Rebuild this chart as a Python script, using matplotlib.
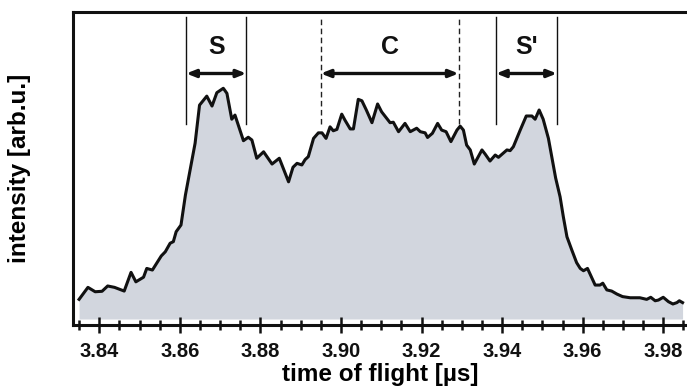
import numpy as np
import matplotlib.pyplot as plt
from matplotlib.ticker import MultipleLocator

# ── data ──────────────────────────────────────────────────────────────────────
tof = [
    3.8350, 3.8372, 3.8390, 3.8407, 3.8421, 3.8438, 3.8462, 3.8479, 3.8491, 3.8510,
    3.8518, 3.8532, 3.8554, 3.8564, 3.8576, 3.8584, 3.8591, 3.8603, 3.8614, 3.8638,
    3.8649, 3.8667, 3.8680, 3.8692, 3.8708, 3.8717, 3.8729, 3.8737, 3.8758, 3.8770,
    3.8779, 3.8791, 3.8808, 3.8829, 3.8847, 3.8870, 3.8881, 3.8891, 3.8903, 3.8911,
    3.8919, 3.8932, 3.8944, 3.8953, 3.8963, 3.8973, 3.8981, 3.8990, 3.9002, 3.9010,
    3.9023, 3.9031, 3.9043, 3.9052, 3.9063, 3.9077, 3.9091, 3.9101, 3.9122, 3.9130,
    3.9143, 3.9159, 3.9172, 3.9188, 3.9197, 3.9209, 3.9215, 3.9227, 3.9240, 3.9250,
    3.9261, 3.9273, 3.9288, 3.9296, 3.9304, 3.9312, 3.9321, 3.9331, 3.9350, 3.9358,
    3.9370, 3.9383, 3.9391, 3.9412, 3.9420, 3.9428, 3.9445, 3.9460, 3.9474, 3.9482,
    3.9492, 3.9502, 3.9515, 3.9533, 3.9544, 3.9552, 3.9561, 3.9573, 3.9585, 3.9594,
    3.9602, 3.9612, 3.9631, 3.9643, 3.9650, 3.9660, 3.9672, 3.9685, 3.9699, 3.9718,
    3.9742, 3.9759, 3.9769, 3.9780, 3.9788, 3.9800, 3.9813, 3.9824, 3.9834, 3.9840,
    3.9848,
]
intensity = [
    8.5, 13.7, 11.8, 12.0, 14.3, 13.7, 12.1, 20.2, 16.1, 18.1,
    21.9, 21.2, 27.3, 29.1, 32.8, 33.5, 37.8, 40.7, 53.7, 76.1,
    92.6, 96.5, 92.2, 98.0, 99.9, 97.7, 86.5, 88.3, 77.2, 78.7,
    77.5, 69.6, 72.4, 67.1, 69.6, 59.4, 65.7, 67.4, 66.7, 69.0,
    70.3, 78.2, 80.6, 80.6, 78.2, 83.2, 81.5, 82.1, 88.7, 86.1,
    82.3, 82.3, 95.1, 94.5, 90.5, 85.0, 93.1, 89.7, 85.0, 85.2,
    81.1, 84.7, 81.1, 82.6, 81.1, 80.6, 78.6, 80.4, 84.7, 81.8,
    81.1, 76.8, 81.8, 83.5, 81.8, 75.3, 73.2, 67.1, 73.2, 71.4,
    68.4, 71.0, 70.0, 73.2, 72.9, 74.6, 81.8, 87.9, 87.9, 86.5,
    90.5, 86.5, 78.2, 61.0, 52.9, 44.3, 35.6, 29.9, 24.4, 21.9,
    20.9, 21.9, 14.7, 14.7, 15.5, 12.6, 12.1, 10.8, 9.7, 9.2,
    9.2, 8.5, 9.4, 7.9, 8.2, 9.4, 7.5, 6.5, 7.1, 7.9,
    7.1,
]

# gate boundaries (time of flight) and their labels
regions = ["S", "C", "S'"]
gate_start = [3.8616, 3.8950, 3.9385]
gate_end = [3.8765, 3.9292, 3.9536]
gate_dashed = [False, True, False]

plt.rcParams["font.family"] = ["Liberation Sans", "DejaVu Sans"]
plt.rcParams["font.weight"] = "bold"

fig = plt.figure(figsize=(6.87, 3.89), dpi=100)
ax = fig.add_axes([0.1063, 0.1645, 0.8937, 0.8045])

ax.fill_between(tof, intensity, 0, color="#d2d6de", lw=0)
ax.plot(tof, intensity, color="#111111", lw=2.2, solid_joinstyle="round")

line_top, line_bottom = 130.7, 84.4
arrow_y, label_y = 106.3, 117.9
for name, t0, t1, dashed in zip(regions, gate_start, gate_end, gate_dashed):
    style = dict(color="#222222", lw=1.0, ls=(0, (4, 2.5))) if dashed else dict(color="#111111", lw=1.0)
    ax.plot([t0, t0], [line_bottom, line_top], **style)
    ax.plot([t1, t1], [line_bottom, line_top], **style)
    ax.annotate("", xy=(t1, arrow_y), xytext=(t0, arrow_y),
                arrowprops=dict(arrowstyle="<|-|>,head_length=0.55,head_width=0.22",
                                color="#111111", lw=2.4, shrinkA=0, shrinkB=0))
    ax.text((t0 + t1) / 2, label_y, name, ha="center", va="center",
            fontsize=18, fontweight="bold", color="#111111")

ax.set_xlim(3.8335, 3.9859)
ax.set_ylim(-2.6, 132.9)
ax.xaxis.set_minor_locator(MultipleLocator(0.005))
ax.set_xticks(np.arange(3.84, 3.981, 0.02))
ax.set_xticklabels(["%.2f" % v for v in np.arange(3.84, 3.981, 0.02)])
ax.set_yticks([])
ax.tick_params(axis="x", which="major", direction="inout", length=12, width=1.8,
               labelsize=14.5, pad=6, colors="#111111")
ax.tick_params(axis="x", which="minor", direction="inout", length=7, width=1.8, colors="#111111")
for s in ["left", "top", "bottom"]:
    ax.spines[s].set_linewidth(2.2)
    ax.spines[s].set_color("#111111")
ax.spines["right"].set_visible(False)

ax.set_xlabel("time of flight [µs]", fontsize=17.5, fontweight="bold", labelpad=2)
ax.set_ylabel("intensity [arb.u.]", fontsize=17.5, fontweight="bold", labelpad=30)

fig.savefig("out.png", dpi=100)
